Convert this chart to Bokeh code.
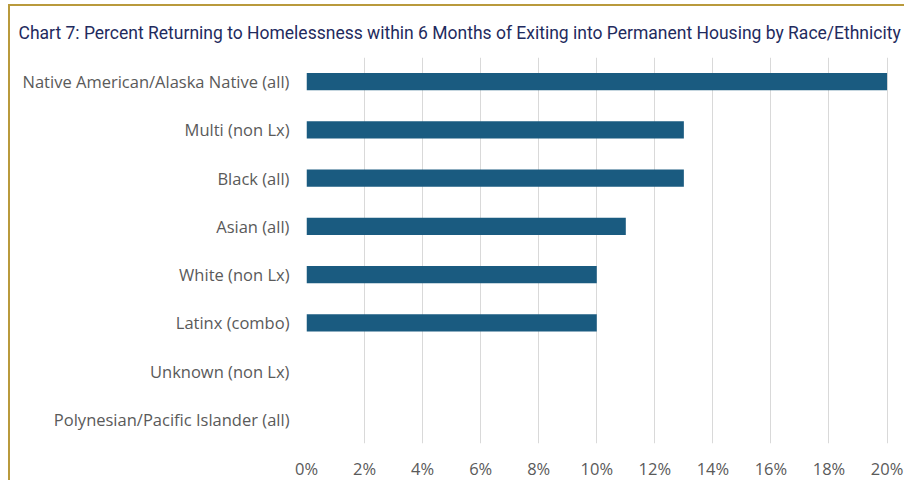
from bokeh.plotting import figure
from bokeh.models import ColumnDataSource, FixedTicker, CustomJSTickFormatter, Range1d
from bokeh.embed import file_html
from bokeh.resources import INLINE

categories = [
    "Native American/Alaska Native (all)",
    "Multi (non Lx)",
    "Black (all)",
    "Asian (all)",
    "White (non Lx)",
    "Latinx (combo)",
    "Unknown (non Lx)",
    "Polynesian/Pacific Islander (all)",
]
values = [20, 13, 13, 11, 10, 10, 0, 0]
tick_values = [0, 2, 4, 6, 8, 10, 12, 14, 16, 18, 20]

title_text = ("Chart 7: Percent Returning to Homelessness within 6 Months of "
              "Exiting into Permanent Housing by Race/Ethnicity")

source = ColumnDataSource(dict(cat=categories, val=values))

p = figure(
    y_range=list(reversed(categories)),
    x_range=Range1d(0, 20.05),
    width=896, height=476,
    output_backend="svg", toolbar_location=None,
    min_border_left=296, min_border_right=18,
    min_border_top=50, min_border_bottom=35,
    title=title_text,
)
p.styles = {"border-top": "2px solid #b99a3c", "border-left": "2px solid #b99a3c",
            "margin-top": "4px", "margin-left": "8px"}

p.hbar(y="cat", right="val", left=0, height=0.36, source=source,
       fill_color="#1a5b80", line_color=None)

p.title.text_font = "Roboto"
p.title.text_font_size = "17.5px"
p.title.text_font_style = "normal"
p.title.text_color = "#1f2b5e"
p.title.align = "left"
p.title.offset = -288
p.title.standoff = 29

p.outline_line_color = None
p.ygrid.grid_line_color = None
p.xgrid.grid_line_color = "#d9d9d9"
p.xgrid.grid_line_width = 1

p.xaxis.ticker = FixedTicker(ticks=tick_values)
p.xaxis.formatter = CustomJSTickFormatter(code="return tick.toFixed(0) + '%';")
for ax in (p.xaxis, p.yaxis):
    ax.axis_line_color = None
    ax.major_tick_line_color = None
    ax.minor_tick_line_color = None
    ax.major_tick_in = 0
    ax.major_tick_out = 0
    ax.major_label_text_font = "Open Sans"
    ax.major_label_text_font_size = "16.5px"
    ax.major_label_text_color = "#5a5a5a"
p.yaxis.major_label_standoff = 17
p.xaxis.major_label_standoff = 13

open("out.html", "w").write(file_html(p, INLINE))
